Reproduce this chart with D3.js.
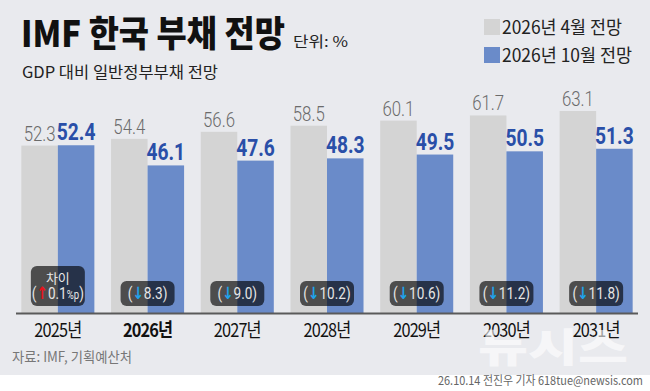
<!DOCTYPE html>
<html>
<head>
<meta charset="utf-8">
<script src="https://cdn.jsdelivr.net/npm/d3@7"></script>
<style>
  body { margin: 0; background: #fff; }
  svg { display: block; }
</style>
</head>
<body>
<div id="chart"></div>
<script>
// Chart data
let years = ['2025년', '2026년', '2027년', '2028년', '2029년', '2030년', '2031년'];
let aprilValues = [52.3, 54.4, 56.6, 58.5, 60.1, 61.7, 63.1];
let octoberValues = [52.4, 46.1, 47.6, 48.3, 49.5, 50.5, 51.3];
let diffLabels = ['0.1', '8.3', '9.0', '10.2', '10.6', '11.2', '11.8'];
let diffUp = [true, false, false, false, false, false, false];
let seriesNames = ['2026년 4월 전망', '2026년 10월 전망'];

let width = 650, height = 391;
let krFont = '"Noto Sans CJK KR", sans-serif';
let numFont = 'Roboto, "Noto Sans", sans-serif';
let colors = ['#d4d4d4', '#6a8bc9'];

let svg = d3.select('#chart').append('svg')
    .attr('width', width)
    .attr('height', height);

// background
svg.append('rect').attr('width', width).attr('height', 375).attr('fill', '#e9eaee');

let baseY = 313;

let x0 = d3.scaleBand()
    .domain(years)
    .range([13, 641])
    .paddingInner(0.186)
    .paddingOuter(0.093);

let x1 = d3.scaleBand()
    .domain([0, 1])
    .range([0, x0.bandwidth()]);

let y = d3.scaleLinear()
    .domain([0, 63.1])
    .range([baseY, 111]);

let rows = years.map(function(d, i) {
    return { year: d, values: [aprilValues[i], octoberValues[i]], diff: diffLabels[i], up: diffUp[i], i: i };
});

let groups = svg.selectAll('.group')
    .data(rows)
    .enter()
    .append('g')
    .attr('class', 'group')
    .attr('transform', function(d) { return 'translate(' + x0(d.year) + ',0)'; });

groups.selectAll('rect.bar')
    .data(function(d) { return d.values.map(function(v, k) { return { v: v, k: k }; }); })
    .enter()
    .append('rect')
    .attr('class', 'bar')
    .attr('x', function(d) { return x1(d.k); })
    .attr('width', x1.bandwidth())
    .attr('y', function(d) { return y(d.v); })
    .attr('height', function(d) { return baseY - y(d.v); })
    .attr('fill', function(d) { return colors[d.k]; });

// value labels (condensed via horizontal scale)
groups.selectAll('text.val')
    .data(function(d) { return d.values.map(function(v, k) { return { v: v, k: k }; }); })
    .enter()
    .append('text')
    .attr('class', 'val')
    .attr('transform', function(d) {
        return 'translate(' + (x1(d.k) + x1.bandwidth() / 2) + ',' + (y(d.v) - 5) + ') scale(0.8,1)';
    })
    .attr('text-anchor', 'middle')
    .style('font-family', numFont)
    .style('font-size', function(d) { return d.k === 0 ? '21px' : '24px'; })
    .style('font-weight', function(d) { return d.k === 0 ? 300 : 700; })
    .style('fill', function(d) { return d.k === 0 ? '#6b6b6b' : '#2a4fa8'; })
    .text(function(d) { return d.v.toFixed(1); });

// difference boxes
groups.each(function(d) {
    let g = d3.select(this);
    let cx = x0.bandwidth() / 2;
    let boxW = 54;
    let top = d.i === 0 ? 266 : 281;
    g.append('rect')
        .attr('x', cx - boxW / 2)
        .attr('y', top)
        .attr('width', boxW)
        .attr('height', 306 - top)
        .attr('rx', 6)
        .attr('fill', '#000')
        .attr('fill-opacity', 0.64);

    if (d.i === 0) {
        g.append('text')
            .attr('x', cx)
            .attr('y', 283)
            .attr('text-anchor', 'middle')
            .style('font-family', krFont)
            .style('font-size', '13px')
            .style('fill', '#e6e6e6')
            .text('차이');
    }

    let t = g.append('text')
        .attr('transform', 'translate(' + cx + ',299) scale(0.8,1)')
        .attr('text-anchor', 'middle')
        .style('font-family', numFont)
        .style('font-size', '17px')
        .style('fill', '#e6e6e6');
    t.append('tspan').text('(');
    t.append('tspan')
        .style('font-family', '"DejaVu Sans", sans-serif')
        .style('fill', d.up ? '#e8141c' : '#1fa2ea')
        .style('font-weight', 700)
        .style('font-size', '17px')
        .text(d.up ? '↑' : '↓');
    t.append('tspan').text(d.diff);
    if (d.up) {
        t.append('tspan').style('font-size', '12px').text('%p');
    }
    t.append('tspan').text(')');
});

// baseline
svg.append('line')
    .attr('x1', 16).attr('x2', 638)
    .attr('y1', baseY + 0.5).attr('y2', baseY + 0.5)
    .attr('stroke', '#5a5a5a')
    .attr('stroke-width', 2);

// year axis
let xAxis = d3.axisBottom(x0).tickSize(0).tickPadding(0);
let axisG = svg.append('g')
    .attr('transform', 'translate(0,' + (baseY + 24) + ')')
    .call(xAxis);
axisG.select('.domain').remove();
axisG.selectAll('text')
    .attr('dy', 0)
    .attr('transform', 'scale(0.86,1)')
    .style('font-family', krFont)
    .style('font-size', '19px')
    .style('font-weight', function(d) { return d === '2026년' ? 700 : 400; })
    .style('fill', '#111')
    .style('letter-spacing', '-1px');

// watermark
svg.append('text')
    .attr('x', 553).attr('y', 362)
    .attr('text-anchor', 'middle')
    .attr('textLength', 150)
    .attr('lengthAdjust', 'spacingAndGlyphs')
    .style('font-family', krFont)
    .style('font-size', '40px')
    .style('font-weight', 900)
    .style('fill', '#fff')
    .style('fill-opacity', 0.6)
    .text('뉴시스');

// title
svg.append('text')
    .attr('x', 21).attr('y', 47)
    .attr('textLength', 264)
    .attr('lengthAdjust', 'spacingAndGlyphs')
    .style('font-family', krFont)
    .style('font-size', '36px')
    .style('font-weight', 900)
    .style('fill', '#111')
    .text('IMF 한국 부채 전망');

svg.append('text')
    .attr('x', 293).attr('y', 47)
    .attr('textLength', 55)
    .attr('lengthAdjust', 'spacingAndGlyphs')
    .style('font-family', krFont)
    .style('font-size', '15px')
    .style('fill', '#222')
    .text('단위: %');

svg.append('text')
    .attr('x', 22).attr('y', 78)
    .attr('textLength', 196)
    .attr('lengthAdjust', 'spacingAndGlyphs')
    .style('font-family', krFont)
    .style('font-size', '16px')
    .style('fill', '#222')
    .text('GDP 대비 일반정부부채 전망');

// legend
let legend = svg.selectAll('.legend')
    .data(seriesNames)
    .enter()
    .append('g')
    .attr('class', 'legend')
    .attr('transform', function(d, i) { return 'translate(484,' + (19 + i * 28) + ')'; });

legend.append('rect')
    .attr('width', 16)
    .attr('height', 16)
    .attr('fill', function(d, i) { return colors[i]; });

legend.append('text')
    .attr('x', 18)
    .attr('y', 15)
    .attr('textLength', function(d, i) { return i === 0 ? 120 : 130; })
    .attr('lengthAdjust', 'spacingAndGlyphs')
    .style('font-family', krFont)
    .style('font-size', '18px')
    .style('fill', '#222')
    .text(function(d) { return d; });

// source + credit
svg.append('text')
    .attr('x', 12).attr('y', 362)
    .attr('textLength', 120)
    .attr('lengthAdjust', 'spacingAndGlyphs')
    .style('font-family', krFont)
    .style('font-size', '14px')
    .style('fill', '#777')
    .text('자료: IMF, 기획예산처');

svg.append('text')
    .attr('x', 643).attr('y', 385)
    .attr('text-anchor', 'end')
    .attr('textLength', 205)
    .attr('lengthAdjust', 'spacingAndGlyphs')
    .style('font-family', krFont)
    .style('font-size', '12px')
    .style('fill', '#666')
    .text('26.10.14 전진우 기자 618tue@newsis.com');
</script>
</body>
</html>
